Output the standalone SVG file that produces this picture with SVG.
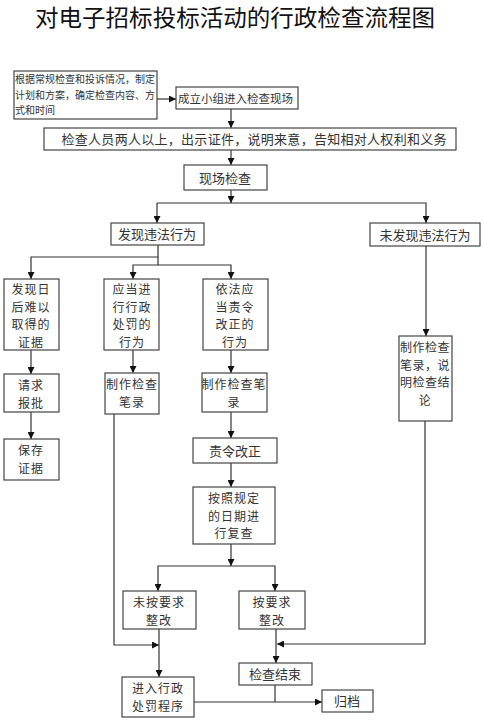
<svg xmlns="http://www.w3.org/2000/svg" width="484" height="720" viewBox="0 0 484 720">
<style>
.box{fill:#fff;stroke:#444;stroke-width:1.2}
.t{font-family:"Noto Sans CJK SC","Noto Sans",sans-serif;fill:#333;text-anchor:middle;dominant-baseline:central}
.s{font-size:10px;text-anchor:start}
.m{font-size:13px}
.k{font-size:12px}
.c{fill:none;stroke:#333;stroke-width:1.2}
</style>
<defs>
<marker id="a" viewBox="0 0 8 8" refX="8" refY="4" markerWidth="7" markerHeight="7" markerUnits="userSpaceOnUse" orient="auto">
<path d="M0,0 L8,4 L0,8 Z" fill="#111"/>
</marker>
</defs>
<rect width="484" height="720" fill="#fff"/>
<text class="t" x="235" y="16" font-size="23" textLength="400" lengthAdjust="spacingAndGlyphs" style="fill:#111">对电子招标投标活动的行政检查流程图</text>

<g id="connectors" class="c" marker-end="url(#a)">
<path d="M157,99 H176"/>
<path d="M231,109 V128"/>
<path d="M231,150 V165"/>
<path d="M231,190 V203"/>
<path d="M157,203 V223"/>
<path d="M157,203 H426 V223"/>
<path d="M158,245 V257 H31 V279"/>
<path d="M158,257 V265 H133 V279"/>
<path d="M158,265 H231 V279"/>
<path d="M31,350 V374"/>
<path d="M31,412 V439"/>
<path d="M133,350 V373"/>
<path d="M231,350 V373"/>
<path d="M231,412 V438"/>
<path d="M231,463 V487"/>
<path d="M231,544 V566"/>
<path d="M231,566 H158 V591"/>
<path d="M231,566 H275 V591"/>
<path d="M114,414 V645 H159"/>
<path d="M159,629 V677"/>
<path d="M426,246 V336"/>
<path d="M425,421 V644 H277"/>
<path d="M276,629 V663"/>
<path d="M194,702 H322"/>
<path d="M275,685 V702" marker-end="none"/>
</g>

<g id="n1"><rect class="box" x="14" y="71" width="143" height="48"/>
<text class="t s" x="15" y="78">根据常规检查和投诉情况，制定<tspan x="15" dy="15.5">计划和方案，确定检查内容、方</tspan><tspan x="15" dy="15.5">式和时间</tspan></text></g>

<g id="n2"><rect class="box" x="176" y="87" width="122" height="22"/>
<text class="t" x="178" y="98" font-size="11.5" style="text-anchor:start">成立小组进入检查现场</text></g>

<g id="n3"><rect class="box" x="44" y="128" width="412" height="22"/>
<text class="t m" x="254" y="138" textLength="385" lengthAdjust="spacing">检查人员两人以上，出示证件，说明来意，告知相对人权利和义务</text></g>

<g id="n4"><rect class="box" x="184" y="165" width="83" height="25"/>
<text class="t m" x="225" y="177">现场检查</text></g>

<g id="n5"><rect class="box" x="111" y="223" width="93" height="22"/>
<text class="t m" x="157" y="233">发现违法行为</text></g>

<g id="n6"><rect class="box" x="370" y="223" width="110" height="23"/>
<text class="t m" x="425" y="234">未发现违法行为</text></g>

<g id="n7"><rect class="box" x="4" y="279" width="55" height="71"/>
<text class="t k" x="31" y="288" letter-spacing="1">发现日<tspan x="31" dy="17.5">后难以</tspan><tspan x="31" dy="17.5">取得的</tspan><tspan x="31" dy="17.5">证据</tspan></text></g>

<g id="n8"><rect class="box" x="104" y="279" width="55" height="71"/>
<text class="t k" x="132" y="288" letter-spacing="1">应当进<tspan x="132" dy="17.5">行行政</tspan><tspan x="132" dy="17.5">处罚的</tspan><tspan x="132" dy="17.5">行为</tspan></text></g>

<g id="n9"><rect class="box" x="203" y="279" width="65" height="71"/>
<text class="t k" x="235" y="288" letter-spacing="1">依法应<tspan x="235" dy="17.5">当责令</tspan><tspan x="235" dy="17.5">改正的</tspan><tspan x="235" dy="17.5">行为</tspan></text></g>

<g id="n10"><rect class="box" x="4" y="374" width="55" height="38"/>
<text class="t k" x="31" y="384" letter-spacing="1">请求<tspan x="31" dy="17.5">报批</tspan></text></g>

<g id="n11"><rect class="box" x="4" y="439" width="55" height="41"/>
<text class="t k" x="31" y="449" letter-spacing="1">保存<tspan x="31" dy="17.5">证据</tspan></text></g>

<g id="n12"><rect class="box" x="105" y="373" width="54" height="41"/>
<text class="t k" x="132" y="383" letter-spacing="1">制作检查<tspan x="132" dy="17.5">笔录</tspan></text></g>

<g id="n13"><rect class="box" x="202" y="373" width="65" height="39"/>
<text class="t k" x="234" y="383" letter-spacing="1">制作检查笔<tspan x="234" dy="17.5">录</tspan></text></g>

<g id="n14"><rect class="box" x="193" y="438" width="84" height="25"/>
<text class="t m" x="235" y="450">责令改正</text></g>

<g id="n15"><rect class="box" x="193" y="487" width="82" height="57"/>
<text class="t k" x="234" y="497" letter-spacing="1">按照规定<tspan x="234" dy="17.5">的日期进</tspan><tspan x="234" dy="17.5">行复查</tspan></text></g>

<g id="n16"><rect class="box" x="399" y="336" width="53" height="85"/>
<text class="t k" x="425" y="346" letter-spacing="0.5">制作检查<tspan x="425" dy="17.5">笔录，说</tspan><tspan x="425" dy="17.5">明检查结</tspan><tspan x="425" dy="17.5">论</tspan></text></g>

<g id="n17"><rect class="box" x="123" y="591" width="73" height="38"/>
<text class="t k" x="159" y="601" letter-spacing="1">未按要求<tspan x="159" dy="17.5">整改</tspan></text></g>

<g id="n18"><rect class="box" x="239" y="591" width="66" height="38"/>
<text class="t k" x="272" y="601" letter-spacing="1">按要求<tspan x="272" dy="17.5">整改</tspan></text></g>

<g id="n19"><rect class="box" x="239" y="663" width="73" height="22"/>
<text class="t m" x="275" y="673">检查结束</text></g>

<g id="n20"><rect class="box" x="122" y="677" width="72" height="40"/>
<text class="t k" x="158" y="687" letter-spacing="1">进入行政<tspan x="158" dy="17.5">处罚程序</tspan></text></g>

<g id="n21"><rect class="box" x="322" y="690" width="51" height="22"/>
<text class="t m" x="347" y="700">归档</text></g>
</svg>
